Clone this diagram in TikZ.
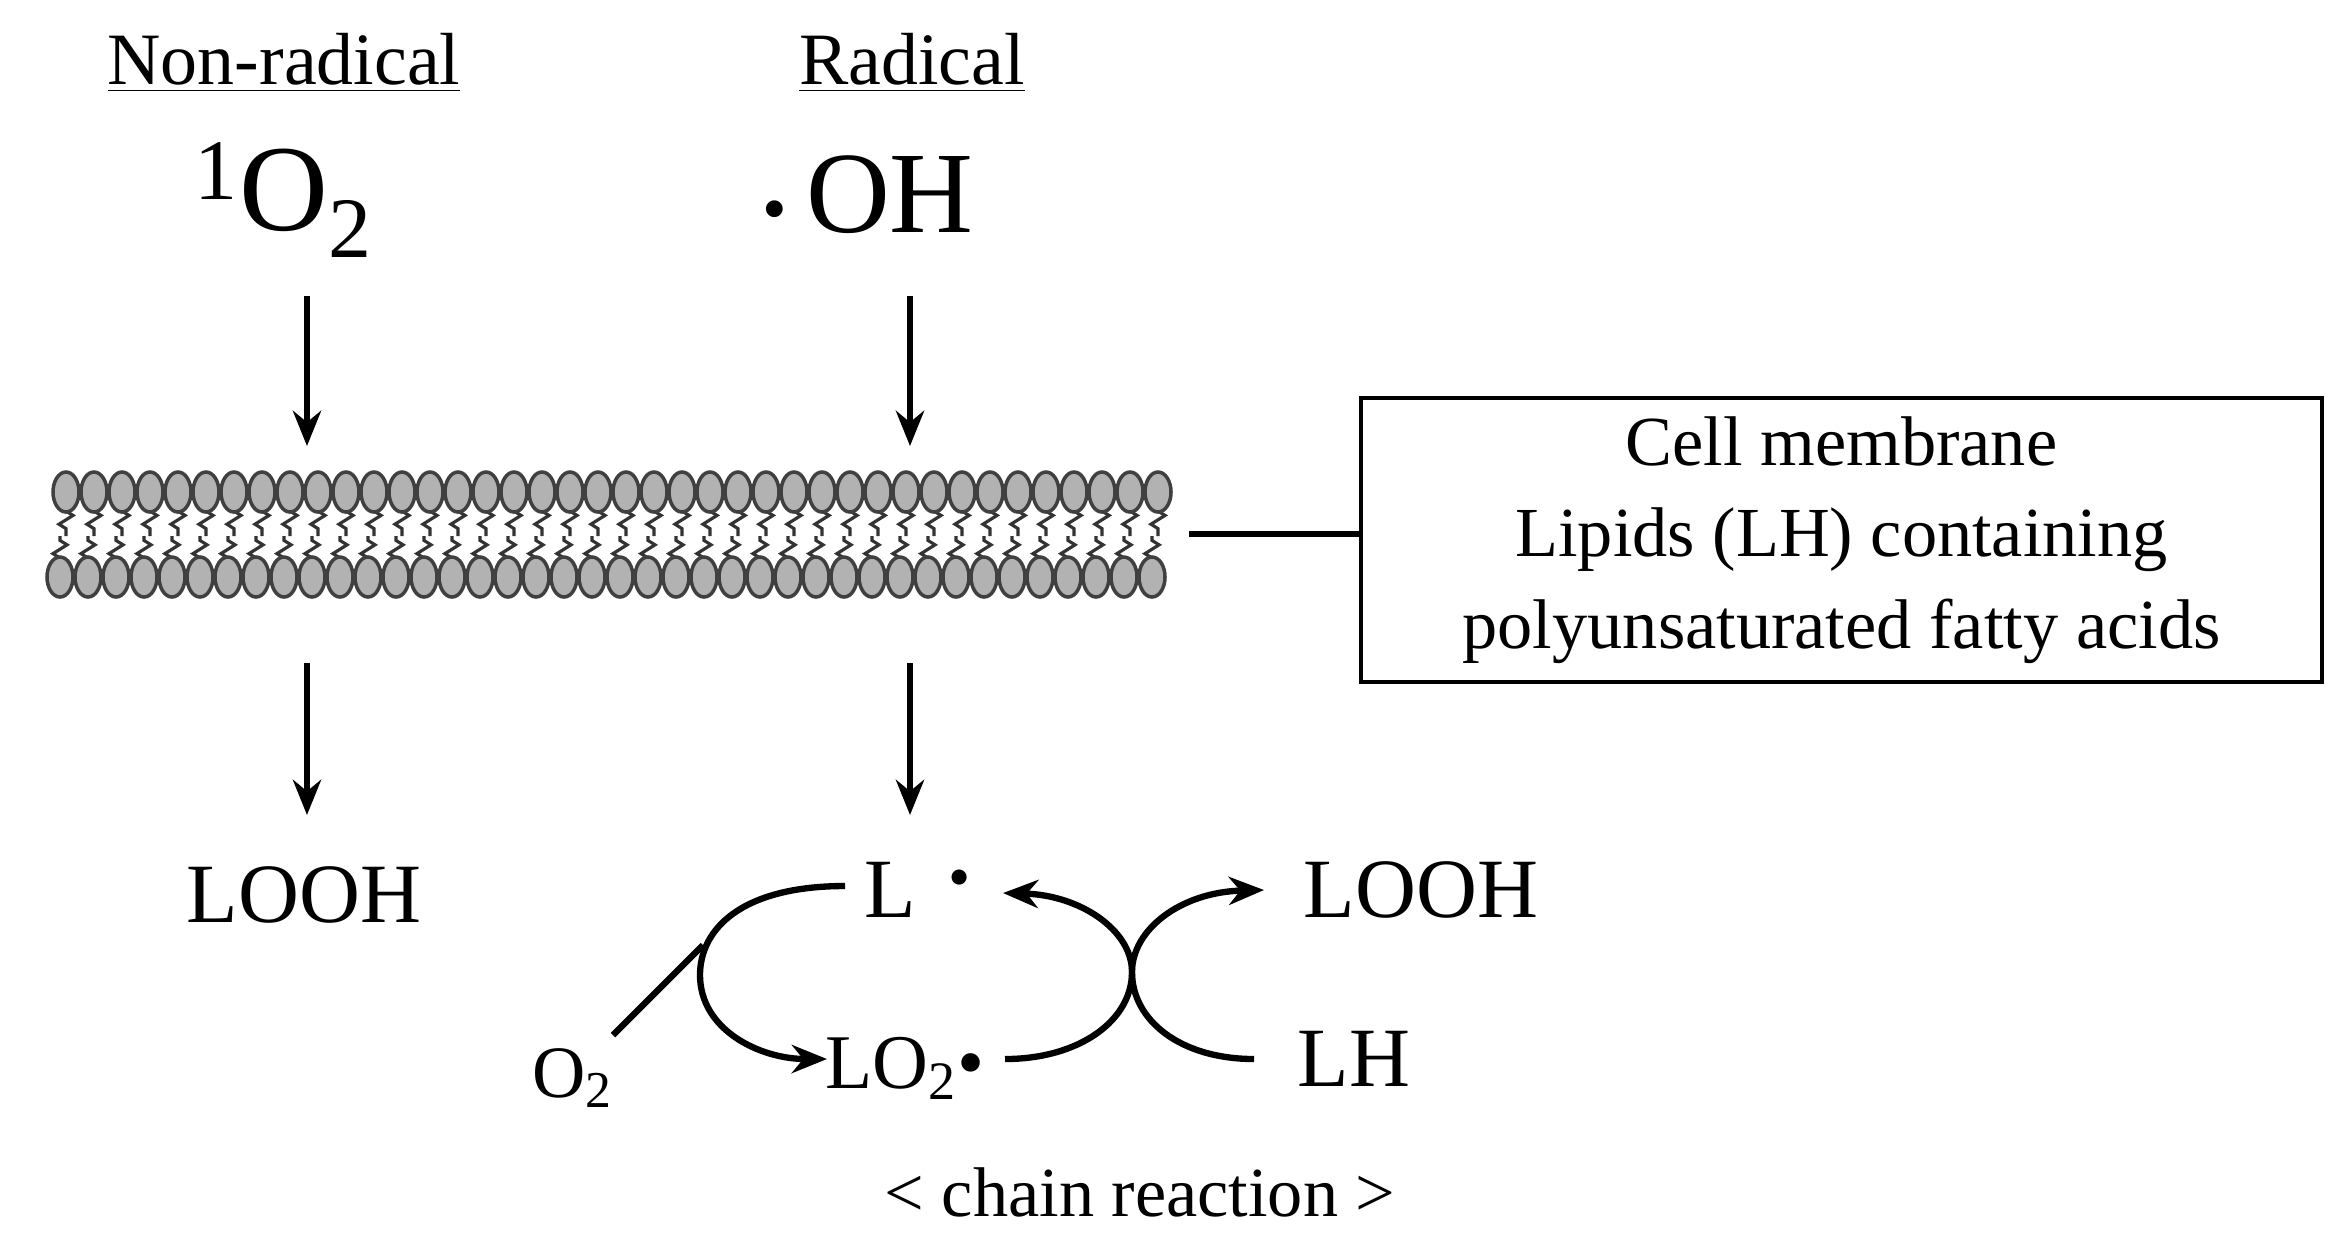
\documentclass[tikz,border=0pt]{standalone}
\usepackage{fontspec}
\setmainfont{Liberation Serif}
\usetikzlibrary{arrows.meta,decorations.pathmorphing}
\begin{document}
\begin{tikzpicture}[x=0.01cm,y=-0.01cm,
  arr/.style={line width=1.8pt,-{Stealth[length=10pt,width=8pt]}},
  ln/.style={line width=1.8pt},
  head/.style={fill=gray!60,draw=black!75,line width=1pt},
  tail/.style={draw=black!80,line width=0.9pt,decorate,decoration={zigzag,segment length=5pt,amplitude=2pt}}]
\useasboundingbox (0,0) rectangle (2346,1247);
% headers
\node[font=\fontsize{21}{24}\selectfont] (nr) at (284,63) {\underline{Non-radical}};
\node[font=\fontsize{21}{24}\selectfont] (r) at (912,63) {\underline{Radical}};
\node[font=\fontsize{35}{40}\selectfont] (so) at (284,200) {\textsuperscript{1}O\textsubscript{2}};
\node[font=\fontsize{33}{38}\selectfont] (oh) at (868,195) {{\fontsize{20}{24}\selectfont\textbullet}\,OH};
% membrane
\foreach \i in {0,...,39}{
  \pgfmathsetmacro{\xx}{66+28*\i}
  \pgfmathsetmacro{\xb}{60+28*\i}
  \draw[tail] (\xx,511) -- (\xx,536);
  \draw[tail] (\xb,558) -- (\xb,536);
  \draw[head] (\xx,492) ellipse (13 and 20);
  \draw[head] (\xb,577) ellipse (13 and 20);
}
\coordinate (a1s) at (307,296); \coordinate (a1e) at (307,446);
\coordinate (a2s) at (910,296); \coordinate (a2e) at (910,446);
\coordinate (b1s) at (307,663); \coordinate (b1e) at (307,815);
\coordinate (b2s) at (910,663); \coordinate (b2e) at (910,815);
\draw[arr] (a1s) -- (a1e);
\draw[arr] (a2s) -- (a2e);
\draw[arr] (b1s) -- (b1e);
\draw[arr] (b2s) -- (b2e);
% box
\node[draw,line width=1.2pt,minimum width=961*0.01cm,minimum height=284*0.01cm,align=center,
  font=\fontsize{20}{26}\selectfont] (box) at (1841.5,540) {Cell membrane\\Lipids (LH) containing\\polyunsaturated fatty acids};
\coordinate (m) at (1189,534);
\draw[ln] (m) -- (box.west |- m);
% products
\node[font=\fontsize{24}{28}\selectfont] (looh1) at (304,895) {LOOH};
\node[font=\fontsize{24}{28}\selectfont] (L) at (890,890) {L};
\node[font=\fontsize{18}{28}\selectfont] (Ld) at (960,884) {\textbullet};
\node[font=\fontsize{24}{28}\selectfont] (looh2) at (1421,890) {LOOH};
\node[font=\fontsize{24}{28}\selectfont] (lh) at (1354,1059) {LH};
\node[font=\fontsize{22}{26}\selectfont] (lo2) at (905,1068) {LO\textsubscript{2}\textbullet};
\node[font=\fontsize{21}{24}\selectfont] (o2) at (573,1078) {O\textsubscript{2}};
\node[font=\fontsize{20}{24}\selectfont] (cr) at (1140,1192) {< chain reaction >};
\coordinate (c1) at (845,886); \coordinate (c1e) at (827,1059);
\draw[arr] (c1) .. controls (740,886) and (700,930) .. (700,975) .. controls (700,1030) and (760,1059) .. (c1e);
\coordinate (o2s) at (613,1035); \coordinate (o2e) at (703,945);
\draw[ln] (o2s) -- (o2e);
\coordinate (d1) at (1005,1059); \coordinate (d1e) at (1003,893);
\draw[arr] (d1) .. controls (1080,1059) and (1132,1020) .. (1132,972) .. controls (1132,930) and (1080,895) .. (d1e);
\coordinate (e1) at (1254,1059); \coordinate (e1e) at (1264,890);
\draw[arr] (e1) .. controls (1180,1059) and (1132,1020) .. (1132,972) .. controls (1132,930) and (1180,892) .. (e1e);
\end{tikzpicture}
\end{document}
